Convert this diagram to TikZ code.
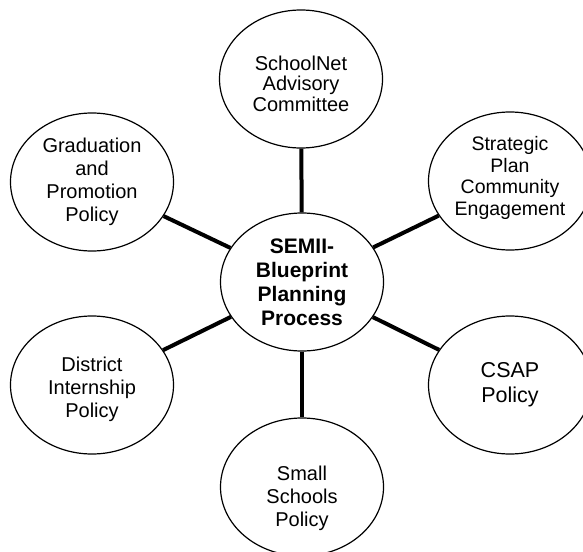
\documentclass[tikz,border=0pt]{standalone}
\usepackage{fontspec}
\setmainfont{Liberation Sans}
\usetikzlibrary{shapes.geometric}
\newcommand\upstrut[1]{\rule{0pt}{#1}}
\newcommand\downstrut[1]{\rule[-#1]{0pt}{#1}}
\begin{document}
\begin{tikzpicture}[x=1pt,y=-1pt,
  bub/.style={ellipse,draw,line width=1.2pt,minimum width=163pt,minimum height=138pt,inner sep=0pt,align=center,font=\fontsize{20}{23}\selectfont},
  link/.style={line width=4pt}]
\useasboundingbox (0,0) rectangle (583,551);
\node[bub,font=\bfseries\fontsize{21}{24}\selectfont] (c) at (302,282) {SEMII-\\Blueprint\\Planning\\Process};
\node[bub,font=\fontsize{20}{20.5}\selectfont] (top) at (301,79) {\upstrut{24pt}SchoolNet\\Advisory\\Committee};
\node[bub] (grad) at (92,182) {Graduation\\and\\Promotion\\Policy};
\node[bub,font=\fontsize{19.5}{21.5}\selectfont] (strat) at (510,181) {Strategic\\Plan\\Community\\Engagement\downstrut{10pt}};
\node[bub] (dist) at (92,385) {\upstrut{24pt}District\\Internship\\Policy};
\node[bub,font=\fontsize{21.5}{25}\selectfont] (csap) at (510,385) {CSAP\\Policy};
\node[bub] (small) at (302,487) {\upstrut{38pt}Small\\Schools\\Policy};
\draw[link] (c) -- (top);
\draw[link] (c) -- (grad);
\draw[link] (c) -- (strat);
\draw[link] (c) -- (dist);
\draw[link] (c) -- (csap);
\draw[link] (c) -- (small);
\end{tikzpicture}
\end{document}
